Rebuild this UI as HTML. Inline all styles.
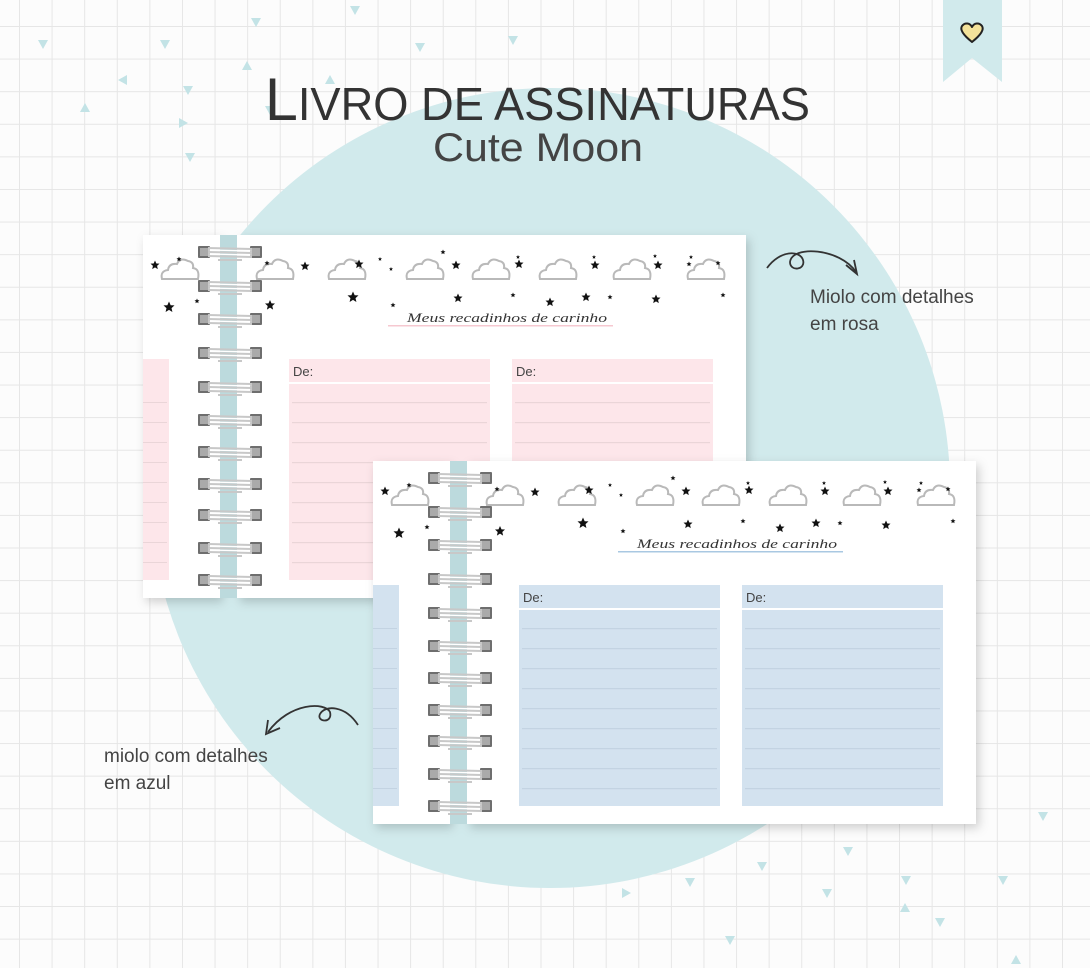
<!DOCTYPE html>
<html><head><meta charset="utf-8"><style>
html,body{margin:0;padding:0;background:#fff}
#wrap{width:1090px;height:968px;position:relative;overflow:hidden;
background-color:#fcfcfc;
background-image:linear-gradient(to right,#e6e6e6 1px,transparent 1px),linear-gradient(to bottom,#e6e6e6 1px,transparent 1px);
background-size:32.6px 32.6px;background-position:19px 26px;}
svg{position:absolute;left:0;top:0}
</style></head><body><div id="wrap">
<svg id="s" width="1090" height="968" viewBox="0 0 1090 968" xmlns="http://www.w3.org/2000/svg">
<defs>
<filter id="sh" x="-10%" y="-10%" width="130%" height="130%"><feDropShadow dx="3" dy="4" stdDeviation="5" flood-color="#000" flood-opacity="0.18"/></filter>
<g id="cloud"><path d="M-18,8 Q-20,0 -12,-1 Q-11,-8 -3,-7 Q0,-14 8,-10 Q14,-9 13,-3 Q20,-2 18,8 Z" fill="#fff" stroke="#b9b9b9" stroke-width="2"/></g>
<polygon id="star" points="0,-5 1.5,-1.6 5,-1.5 2.3,1 3.1,4.6 0,2.6 -3.1,4.6 -2.3,1 -5,-1.5 -1.5,-1.6" fill="#111"/>
<g id="spiral">
<rect x="0" y="-6" width="12" height="12" fill="#6e6e6e" rx="1"/>
<rect x="52" y="-6" width="12" height="12" fill="#6e6e6e" rx="1"/>
<rect x="2" y="-4" width="8" height="8" fill="#aaa"/><rect x="54" y="-4" width="8" height="8" fill="#aaa"/>
<path d="M10,-4 L54,-3 M10,0 L54,1 M10,4 L54,5 M20,8 L44,8" stroke="#c8c8c8" stroke-width="2" fill="none"/>
<path d="M10,-2 L54,-1 M10,2 L54,3" stroke="#fff" stroke-width="1.2" fill="none"/>
</g>
</defs>
<circle cx="550" cy="488" r="400" fill="#d1eaec"/>
<g id="tri" fill="#c3e3e6"></g>
<path d="M943,0 H1002 V82 L972,58 L943,82 Z" fill="#d1eaec"/>
<path d="M972,42 C962,34 960,29 962,26 C965,22 970,23 972,27 C974,23 979,22 982,26 C984,29 982,34 972,42 Z" fill="#f3e29a" stroke="#222" stroke-width="2" stroke-linejoin="round"/>
<text x="265" y="120" font-family="Liberation Sans, sans-serif" fill="#333" textLength="545" lengthAdjust="spacingAndGlyphs"><tspan font-size="60">L</tspan><tspan font-size="46">IVRO DE ASSINATURAS</tspan></text>
<text x="538" y="161" text-anchor="middle" font-family="Liberation Sans, sans-serif" font-size="40" fill="#444" textLength="210" lengthAdjust="spacingAndGlyphs">Cute Moon</text>
<g id="nbs"></g>
<path d="M767,268 C780,250 800,250 803,260 C806,270 790,272 790,262 C792,245 840,248 856,272" fill="none" stroke="#333" stroke-width="1.8"/>
<path d="M846,265 L857,274 L854,260" fill="none" stroke="#333" stroke-width="1.8"/>
<text x="810" y="303" font-family="Liberation Sans, sans-serif" font-size="19" fill="#444">Miolo com detalhes</text>
<text x="810" y="330" font-family="Liberation Sans, sans-serif" font-size="19" fill="#444">em rosa</text>
<path d="M358,725 C345,705 325,705 320,714 C316,722 333,724 330,712 C325,702 290,702 268,732" fill="none" stroke="#333" stroke-width="1.8"/>
<path d="M268,720 L266,734 L280,728" fill="none" stroke="#333" stroke-width="1.8"/>
<text x="104" y="762" font-family="Liberation Sans, sans-serif" font-size="19" fill="#444">miolo com detalhes</text>
<text x="104" y="789" font-family="Liberation Sans, sans-serif" font-size="19" fill="#444">em azul</text>
</svg>
<script>
var tris=[[43,44,0],[165,44,0],[256,22,0],[355,10,0],[513,40,0],[123,80,90],[188,90,0],[247,66,180],[85,108,180],[420,47,0],[183,123,-90],[190,157,0],[270,110,0],[330,80,180],[1043,816,0],[848,851,0],[1003,880,0],[626,893,-90],[762,866,0],[827,893,0],[906,880,0],[940,922,0],[905,908,180],[1016,960,180],[730,940,0],[690,882,0]];
var t='';tris.forEach(function(p){t+='<polygon points="-5,-4 5,-4 0,5" transform="translate('+p[0]+','+p[1]+') rotate('+p[2]+')"/>';});
document.getElementById('tri').innerHTML=t;
function nb(ox,oy,col,lc,ul){
 var h='<g transform="translate('+ox+','+oy+')">';
 h+='<g filter="url(#sh)"><rect x="0" y="0" width="77" height="363" fill="#fff"/><rect x="94" y="0" width="509" height="363" fill="#fff"/></g>';
 h+='<rect x="77" y="0" width="17" height="363" fill="#bcdadd"/>';
 h+='<rect x="0" y="124" width="26" height="221" fill="'+col+'"/>';
 [146,369].forEach(function(cx){
  h+='<rect x="'+cx+'" y="124" width="201" height="221" fill="'+col+'"/>';
  h+='<rect x="'+cx+'" y="147" width="201" height="2" fill="#fff"/>';
  for(var y=167;y<345;y+=20)h+='<rect x="'+(cx+3)+'" y="'+y+'" width="195" height="1.2" fill="'+lc+'"/>';
  h+='<text x="'+(cx+4)+'" y="141" font-family="Liberation Sans, sans-serif" font-size="13" fill="#444">De:</text>';
 });
 for(var y=167;y<345;y+=20)h+='<rect x="0" y="'+y+'" width="24" height="1" fill="'+lc+'"/>';
 [37,132,204,282,348,415,489,563].forEach(function(cx){h+='<use href="#cloud" x="'+cx+'" y="36"/>';});
 var st=[[12,30,.9],[36,24,.5],[26,72,1.1],[124,28,.5],[162,31,.9],[127,70,1],[54,66,.5],[216,29,.9],[210,62,1.1],[248,34,.4],[250,70,.5],[237,24,.4],[313,30,.9],[315,63,.9],[300,17,.5],[376,29,.9],[370,60,.5],[375,22,.4],[407,67,.9],[452,30,.9],[451,22,.4],[443,62,.9],[515,30,.9],[513,64,.9],[512,21,.4],[575,28,.5],[580,60,.5],[546,29,.5],[548,22,.4],[467,62,.5]];
 st.forEach(function(s){h+='<use href="#star" transform="translate('+s[0]+','+s[1]+') scale('+s[2]+')"/>';});
 h+='<text x="364" y="87" text-anchor="middle" font-family="Liberation Serif, serif" font-style="italic" font-size="13" fill="#333" textLength="200" lengthAdjust="spacingAndGlyphs">Meus recadinhos de carinho</text>';
 h+='<rect x="245" y="90" width="225" height="1.5" fill="'+ul+'"/>';
 [17,51,84,118,152,185,217,249,280,313,345].forEach(function(y){h+='<use href="#spiral" x="55" y="'+y+'"/>';});
 h+='</g>';return h;
}
document.getElementById('nbs').innerHTML=nb(143,235,'#fde6ea','#ead5d8','#f6c8d0')+nb(373,461,'#d3e2ef','#c3d3e2','#a9c8e2');
</script>
</div></body></html>
